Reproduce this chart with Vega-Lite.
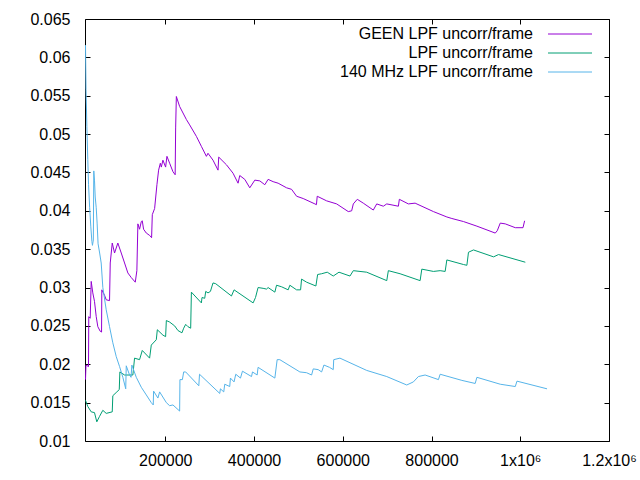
{
  "$schema": "https://vega.github.io/schema/vega-lite/v6.json",
  "width": 524,
  "height": 422,
  "autosize": {"type": "none"},
  "padding": {"left": 85, "top": 19, "right": 31, "bottom": 39},
  "background": "white",
  "config": {
    "view": {"stroke": "black", "strokeWidth": 1},
    "font": "Liberation Sans",
    "axis": {
      "grid": false,
      "domain": false,
      "tickColor": "black",
      "tickSize": -5,
      "tickWidth": 1,
      "labelColor": "black",
      "labelFontSize": 16,
      "labelFont": "Liberation Sans",
      "labelFlush": false,
      "labelOverlap": false,
      "title": null
    }
  },
  "data": {
    "values": [
      {"s": "GEEN LPF uncorr/frame", "x": 20100, "y": 0.0180},
      {"s": "GEEN LPF uncorr/frame", "x": 21200, "y": 0.0199},
      {"s": "GEEN LPF uncorr/frame", "x": 26900, "y": 0.0197},
      {"s": "GEEN LPF uncorr/frame", "x": 27500, "y": 0.0262},
      {"s": "GEEN LPF uncorr/frame", "x": 30700, "y": 0.0260},
      {"s": "GEEN LPF uncorr/frame", "x": 33000, "y": 0.0308},
      {"s": "GEEN LPF uncorr/frame", "x": 36600, "y": 0.0293},
      {"s": "GEEN LPF uncorr/frame", "x": 40400, "y": 0.0282},
      {"s": "GEEN LPF uncorr/frame", "x": 44300, "y": 0.0262},
      {"s": "GEEN LPF uncorr/frame", "x": 47900, "y": 0.0249},
      {"s": "GEEN LPF uncorr/frame", "x": 53300, "y": 0.0243},
      {"s": "GEEN LPF uncorr/frame", "x": 56300, "y": 0.0242},
      {"s": "GEEN LPF uncorr/frame", "x": 56900, "y": 0.0297},
      {"s": "GEEN LPF uncorr/frame", "x": 63000, "y": 0.0290},
      {"s": "GEEN LPF uncorr/frame", "x": 66800, "y": 0.0284},
      {"s": "GEEN LPF uncorr/frame", "x": 74300, "y": 0.0283},
      {"s": "GEEN LPF uncorr/frame", "x": 75900, "y": 0.0332},
      {"s": "GEEN LPF uncorr/frame", "x": 80400, "y": 0.0358},
      {"s": "GEEN LPF uncorr/frame", "x": 85600, "y": 0.0345},
      {"s": "GEEN LPF uncorr/frame", "x": 93000, "y": 0.0358},
      {"s": "GEEN LPF uncorr/frame", "x": 100700, "y": 0.0345},
      {"s": "GEEN LPF uncorr/frame", "x": 108200, "y": 0.0332},
      {"s": "GEEN LPF uncorr/frame", "x": 115600, "y": 0.0319},
      {"s": "GEEN LPF uncorr/frame", "x": 123300, "y": 0.0313},
      {"s": "GEEN LPF uncorr/frame", "x": 132300, "y": 0.0307},
      {"s": "GEEN LPF uncorr/frame", "x": 135900, "y": 0.0322},
      {"s": "GEEN LPF uncorr/frame", "x": 138200, "y": 0.0383},
      {"s": "GEEN LPF uncorr/frame", "x": 142000, "y": 0.0376},
      {"s": "GEEN LPF uncorr/frame", "x": 145900, "y": 0.0386},
      {"s": "GEEN LPF uncorr/frame", "x": 148100, "y": 0.0387},
      {"s": "GEEN LPF uncorr/frame", "x": 151000, "y": 0.0376},
      {"s": "GEEN LPF uncorr/frame", "x": 157200, "y": 0.0371},
      {"s": "GEEN LPF uncorr/frame", "x": 164600, "y": 0.0368},
      {"s": "GEEN LPF uncorr/frame", "x": 169100, "y": 0.0365},
      {"s": "GEEN LPF uncorr/frame", "x": 170700, "y": 0.0395},
      {"s": "GEEN LPF uncorr/frame", "x": 175900, "y": 0.0403},
      {"s": "GEEN LPF uncorr/frame", "x": 181100, "y": 0.0434},
      {"s": "GEEN LPF uncorr/frame", "x": 184900, "y": 0.0453},
      {"s": "GEEN LPF uncorr/frame", "x": 188800, "y": 0.0462},
      {"s": "GEEN LPF uncorr/frame", "x": 191000, "y": 0.0457},
      {"s": "GEEN LPF uncorr/frame", "x": 194600, "y": 0.0466},
      {"s": "GEEN LPF uncorr/frame", "x": 200700, "y": 0.0457},
      {"s": "GEEN LPF uncorr/frame", "x": 203700, "y": 0.0471},
      {"s": "GEEN LPF uncorr/frame", "x": 209800, "y": 0.0462},
      {"s": "GEEN LPF uncorr/frame", "x": 217200, "y": 0.0451},
      {"s": "GEEN LPF uncorr/frame", "x": 222200, "y": 0.0447},
      {"s": "GEEN LPF uncorr/frame", "x": 223300, "y": 0.0508},
      {"s": "GEEN LPF uncorr/frame", "x": 224900, "y": 0.0549},
      {"s": "GEEN LPF uncorr/frame", "x": 232300, "y": 0.0536},
      {"s": "GEEN LPF uncorr/frame", "x": 247500, "y": 0.0519},
      {"s": "GEEN LPF uncorr/frame", "x": 254900, "y": 0.0512},
      {"s": "GEEN LPF uncorr/frame", "x": 270100, "y": 0.0497},
      {"s": "GEEN LPF uncorr/frame", "x": 281300, "y": 0.0484},
      {"s": "GEEN LPF uncorr/frame", "x": 292600, "y": 0.0471},
      {"s": "GEEN LPF uncorr/frame", "x": 296200, "y": 0.0475},
      {"s": "GEEN LPF uncorr/frame", "x": 307500, "y": 0.0466},
      {"s": "GEEN LPF uncorr/frame", "x": 318800, "y": 0.0453},
      {"s": "GEEN LPF uncorr/frame", "x": 320400, "y": 0.0470},
      {"s": "GEEN LPF uncorr/frame", "x": 337800, "y": 0.0460},
      {"s": "GEEN LPF uncorr/frame", "x": 352700, "y": 0.0449},
      {"s": "GEEN LPF uncorr/frame", "x": 364000, "y": 0.0436},
      {"s": "GEEN LPF uncorr/frame", "x": 367800, "y": 0.0446},
      {"s": "GEEN LPF uncorr/frame", "x": 379100, "y": 0.0441},
      {"s": "GEEN LPF uncorr/frame", "x": 390400, "y": 0.0430},
      {"s": "GEEN LPF uncorr/frame", "x": 401700, "y": 0.0440},
      {"s": "GEEN LPF uncorr/frame", "x": 413000, "y": 0.0439},
      {"s": "GEEN LPF uncorr/frame", "x": 424300, "y": 0.0434},
      {"s": "GEEN LPF uncorr/frame", "x": 431700, "y": 0.0441},
      {"s": "GEEN LPF uncorr/frame", "x": 443000, "y": 0.0438},
      {"s": "GEEN LPF uncorr/frame", "x": 454300, "y": 0.0436},
      {"s": "GEEN LPF uncorr/frame", "x": 473300, "y": 0.0430},
      {"s": "GEEN LPF uncorr/frame", "x": 484600, "y": 0.0428},
      {"s": "GEEN LPF uncorr/frame", "x": 495900, "y": 0.0419},
      {"s": "GEEN LPF uncorr/frame", "x": 510800, "y": 0.0416},
      {"s": "GEEN LPF uncorr/frame", "x": 537200, "y": 0.0409},
      {"s": "GEEN LPF uncorr/frame", "x": 540600, "y": 0.0408},
      {"s": "GEEN LPF uncorr/frame", "x": 542400, "y": 0.0419},
      {"s": "GEEN LPF uncorr/frame", "x": 563600, "y": 0.0413},
      {"s": "GEEN LPF uncorr/frame", "x": 586200, "y": 0.0409},
      {"s": "GEEN LPF uncorr/frame", "x": 612400, "y": 0.0399},
      {"s": "GEEN LPF uncorr/frame", "x": 620000, "y": 0.0400},
      {"s": "GEEN LPF uncorr/frame", "x": 623700, "y": 0.0409},
      {"s": "GEEN LPF uncorr/frame", "x": 632700, "y": 0.0415},
      {"s": "GEEN LPF uncorr/frame", "x": 646200, "y": 0.0410},
      {"s": "GEEN LPF uncorr/frame", "x": 668800, "y": 0.0401},
      {"s": "GEEN LPF uncorr/frame", "x": 676500, "y": 0.0409},
      {"s": "GEEN LPF uncorr/frame", "x": 691400, "y": 0.0406},
      {"s": "GEEN LPF uncorr/frame", "x": 699100, "y": 0.0409},
      {"s": "GEEN LPF uncorr/frame", "x": 725300, "y": 0.0406},
      {"s": "GEEN LPF uncorr/frame", "x": 727500, "y": 0.0415},
      {"s": "GEEN LPF uncorr/frame", "x": 747800, "y": 0.0409},
      {"s": "GEEN LPF uncorr/frame", "x": 763000, "y": 0.0410},
      {"s": "GEEN LPF uncorr/frame", "x": 804300, "y": 0.0399},
      {"s": "GEEN LPF uncorr/frame", "x": 834500, "y": 0.0392},
      {"s": "GEEN LPF uncorr/frame", "x": 845800, "y": 0.0390},
      {"s": "GEEN LPF uncorr/frame", "x": 872000, "y": 0.0386},
      {"s": "GEEN LPF uncorr/frame", "x": 902300, "y": 0.0380},
      {"s": "GEEN LPF uncorr/frame", "x": 943600, "y": 0.0371},
      {"s": "GEEN LPF uncorr/frame", "x": 948100, "y": 0.0374},
      {"s": "GEEN LPF uncorr/frame", "x": 954900, "y": 0.0384},
      {"s": "GEEN LPF uncorr/frame", "x": 966200, "y": 0.0383},
      {"s": "GEEN LPF uncorr/frame", "x": 988800, "y": 0.0378},
      {"s": "GEEN LPF uncorr/frame", "x": 1006200, "y": 0.0378},
      {"s": "GEEN LPF uncorr/frame", "x": 1009800, "y": 0.0387},

      {"s": "LPF uncorr/frame", "x": 20100, "y": 0.0153},
      {"s": "LPF uncorr/frame", "x": 25300, "y": 0.0145},
      {"s": "LPF uncorr/frame", "x": 33000, "y": 0.0138},
      {"s": "LPF uncorr/frame", "x": 40400, "y": 0.0137},
      {"s": "LPF uncorr/frame", "x": 45600, "y": 0.0125},
      {"s": "LPF uncorr/frame", "x": 51700, "y": 0.0132},
      {"s": "LPF uncorr/frame", "x": 59200, "y": 0.0140},
      {"s": "LPF uncorr/frame", "x": 66800, "y": 0.0136},
      {"s": "LPF uncorr/frame", "x": 80400, "y": 0.0138},
      {"s": "LPF uncorr/frame", "x": 81700, "y": 0.0159},
      {"s": "LPF uncorr/frame", "x": 90800, "y": 0.0164},
      {"s": "LPF uncorr/frame", "x": 96200, "y": 0.0167},
      {"s": "LPF uncorr/frame", "x": 97600, "y": 0.0190},
      {"s": "LPF uncorr/frame", "x": 108200, "y": 0.0186},
      {"s": "LPF uncorr/frame", "x": 126900, "y": 0.0186},
      {"s": "LPF uncorr/frame", "x": 130700, "y": 0.0208},
      {"s": "LPF uncorr/frame", "x": 142000, "y": 0.0206},
      {"s": "LPF uncorr/frame", "x": 148100, "y": 0.0218},
      {"s": "LPF uncorr/frame", "x": 164600, "y": 0.0208},
      {"s": "LPF uncorr/frame", "x": 168400, "y": 0.0225},
      {"s": "LPF uncorr/frame", "x": 179700, "y": 0.0232},
      {"s": "LPF uncorr/frame", "x": 182000, "y": 0.0245},
      {"s": "LPF uncorr/frame", "x": 194600, "y": 0.0238},
      {"s": "LPF uncorr/frame", "x": 200700, "y": 0.0236},
      {"s": "LPF uncorr/frame", "x": 202300, "y": 0.0257},
      {"s": "LPF uncorr/frame", "x": 209800, "y": 0.0255},
      {"s": "LPF uncorr/frame", "x": 221100, "y": 0.0250},
      {"s": "LPF uncorr/frame", "x": 228500, "y": 0.0244},
      {"s": "LPF uncorr/frame", "x": 237500, "y": 0.0241},
      {"s": "LPF uncorr/frame", "x": 241400, "y": 0.0247},
      {"s": "LPF uncorr/frame", "x": 245900, "y": 0.0252},
      {"s": "LPF uncorr/frame", "x": 251100, "y": 0.0249},
      {"s": "LPF uncorr/frame", "x": 257200, "y": 0.0247},
      {"s": "LPF uncorr/frame", "x": 258800, "y": 0.0294},
      {"s": "LPF uncorr/frame", "x": 281300, "y": 0.0280},
      {"s": "LPF uncorr/frame", "x": 282700, "y": 0.0287},
      {"s": "LPF uncorr/frame", "x": 288800, "y": 0.0286},
      {"s": "LPF uncorr/frame", "x": 291100, "y": 0.0295},
      {"s": "LPF uncorr/frame", "x": 296200, "y": 0.0293},
      {"s": "LPF uncorr/frame", "x": 301700, "y": 0.0295},
      {"s": "LPF uncorr/frame", "x": 307500, "y": 0.0306},
      {"s": "LPF uncorr/frame", "x": 313600, "y": 0.0305},
      {"s": "LPF uncorr/frame", "x": 349100, "y": 0.0289},
      {"s": "LPF uncorr/frame", "x": 355000, "y": 0.0297},
      {"s": "LPF uncorr/frame", "x": 397900, "y": 0.0280},
      {"s": "LPF uncorr/frame", "x": 403300, "y": 0.0287},
      {"s": "LPF uncorr/frame", "x": 409100, "y": 0.0300},
      {"s": "LPF uncorr/frame", "x": 420400, "y": 0.0299},
      {"s": "LPF uncorr/frame", "x": 428100, "y": 0.0298},
      {"s": "LPF uncorr/frame", "x": 431700, "y": 0.0300},
      {"s": "LPF uncorr/frame", "x": 446900, "y": 0.0294},
      {"s": "LPF uncorr/frame", "x": 450700, "y": 0.0303},
      {"s": "LPF uncorr/frame", "x": 462000, "y": 0.0301},
      {"s": "LPF uncorr/frame", "x": 476900, "y": 0.0297},
      {"s": "LPF uncorr/frame", "x": 480700, "y": 0.0303},
      {"s": "LPF uncorr/frame", "x": 495900, "y": 0.0297},
      {"s": "LPF uncorr/frame", "x": 504900, "y": 0.0297},
      {"s": "LPF uncorr/frame", "x": 507100, "y": 0.0311},
      {"s": "LPF uncorr/frame", "x": 518400, "y": 0.0307},
      {"s": "LPF uncorr/frame", "x": 539400, "y": 0.0302},
      {"s": "LPF uncorr/frame", "x": 543300, "y": 0.0317},
      {"s": "LPF uncorr/frame", "x": 552300, "y": 0.0318},
      {"s": "LPF uncorr/frame", "x": 565000, "y": 0.0320},
      {"s": "LPF uncorr/frame", "x": 578500, "y": 0.0315},
      {"s": "LPF uncorr/frame", "x": 591400, "y": 0.0320},
      {"s": "LPF uncorr/frame", "x": 616200, "y": 0.0315},
      {"s": "LPF uncorr/frame", "x": 623700, "y": 0.0322},
      {"s": "LPF uncorr/frame", "x": 653900, "y": 0.0320},
      {"s": "LPF uncorr/frame", "x": 699100, "y": 0.0309},
      {"s": "LPF uncorr/frame", "x": 702700, "y": 0.0322},
      {"s": "LPF uncorr/frame", "x": 729100, "y": 0.0318},
      {"s": "LPF uncorr/frame", "x": 774300, "y": 0.0309},
      {"s": "LPF uncorr/frame", "x": 778100, "y": 0.0324},
      {"s": "LPF uncorr/frame", "x": 804300, "y": 0.0321},
      {"s": "LPF uncorr/frame", "x": 819400, "y": 0.0322},
      {"s": "LPF uncorr/frame", "x": 830700, "y": 0.0321},
      {"s": "LPF uncorr/frame", "x": 834500, "y": 0.0336},
      {"s": "LPF uncorr/frame", "x": 872000, "y": 0.0330},
      {"s": "LPF uncorr/frame", "x": 879700, "y": 0.0329},
      {"s": "LPF uncorr/frame", "x": 883300, "y": 0.0346},
      {"s": "LPF uncorr/frame", "x": 894600, "y": 0.0349},
      {"s": "LPF uncorr/frame", "x": 939800, "y": 0.0340},
      {"s": "LPF uncorr/frame", "x": 951100, "y": 0.0343},
      {"s": "LPF uncorr/frame", "x": 1011400, "y": 0.0333},

      {"s": "140 MHz LPF uncorr/frame", "x": 20100, "y": 0.0616},
      {"s": "140 MHz LPF uncorr/frame", "x": 21300, "y": 0.0558},
      {"s": "140 MHz LPF uncorr/frame", "x": 23200, "y": 0.0510},
      {"s": "140 MHz LPF uncorr/frame", "x": 25300, "y": 0.0467},
      {"s": "140 MHz LPF uncorr/frame", "x": 27000, "y": 0.0434},
      {"s": "140 MHz LPF uncorr/frame", "x": 29500, "y": 0.0404},
      {"s": "140 MHz LPF uncorr/frame", "x": 32000, "y": 0.0380},
      {"s": "140 MHz LPF uncorr/frame", "x": 34500, "y": 0.0360},
      {"s": "140 MHz LPF uncorr/frame", "x": 35800, "y": 0.0355},
      {"s": "140 MHz LPF uncorr/frame", "x": 37800, "y": 0.0362},
      {"s": "140 MHz LPF uncorr/frame", "x": 38800, "y": 0.0452},
      {"s": "140 MHz LPF uncorr/frame", "x": 40400, "y": 0.0440},
      {"s": "140 MHz LPF uncorr/frame", "x": 42000, "y": 0.0418},
      {"s": "140 MHz LPF uncorr/frame", "x": 44300, "y": 0.0404},
      {"s": "140 MHz LPF uncorr/frame", "x": 46300, "y": 0.0384},
      {"s": "140 MHz LPF uncorr/frame", "x": 48500, "y": 0.0357},
      {"s": "140 MHz LPF uncorr/frame", "x": 52000, "y": 0.0345},
      {"s": "140 MHz LPF uncorr/frame", "x": 55500, "y": 0.0332},
      {"s": "140 MHz LPF uncorr/frame", "x": 59200, "y": 0.0300},
      {"s": "140 MHz LPF uncorr/frame", "x": 66800, "y": 0.0271},
      {"s": "140 MHz LPF uncorr/frame", "x": 74300, "y": 0.0249},
      {"s": "140 MHz LPF uncorr/frame", "x": 81700, "y": 0.0228},
      {"s": "140 MHz LPF uncorr/frame", "x": 89400, "y": 0.0210},
      {"s": "140 MHz LPF uncorr/frame", "x": 96900, "y": 0.0197},
      {"s": "140 MHz LPF uncorr/frame", "x": 104300, "y": 0.0183},
      {"s": "140 MHz LPF uncorr/frame", "x": 110800, "y": 0.0168},
      {"s": "140 MHz LPF uncorr/frame", "x": 112000, "y": 0.0198},
      {"s": "140 MHz LPF uncorr/frame", "x": 119400, "y": 0.0186},
      {"s": "140 MHz LPF uncorr/frame", "x": 122800, "y": 0.0183},
      {"s": "140 MHz LPF uncorr/frame", "x": 124600, "y": 0.0199},
      {"s": "140 MHz LPF uncorr/frame", "x": 134600, "y": 0.0183},
      {"s": "140 MHz LPF uncorr/frame", "x": 145900, "y": 0.0170},
      {"s": "140 MHz LPF uncorr/frame", "x": 157200, "y": 0.0160},
      {"s": "140 MHz LPF uncorr/frame", "x": 168400, "y": 0.0150},
      {"s": "140 MHz LPF uncorr/frame", "x": 172800, "y": 0.0147},
      {"s": "140 MHz LPF uncorr/frame", "x": 173600, "y": 0.0165},
      {"s": "140 MHz LPF uncorr/frame", "x": 183300, "y": 0.0156},
      {"s": "140 MHz LPF uncorr/frame", "x": 187200, "y": 0.0164},
      {"s": "140 MHz LPF uncorr/frame", "x": 202300, "y": 0.0150},
      {"s": "140 MHz LPF uncorr/frame", "x": 209800, "y": 0.0146},
      {"s": "140 MHz LPF uncorr/frame", "x": 217200, "y": 0.0147},
      {"s": "140 MHz LPF uncorr/frame", "x": 232300, "y": 0.0139},
      {"s": "140 MHz LPF uncorr/frame", "x": 233000, "y": 0.0180},
      {"s": "140 MHz LPF uncorr/frame", "x": 238500, "y": 0.0180},
      {"s": "140 MHz LPF uncorr/frame", "x": 241400, "y": 0.0190},
      {"s": "140 MHz LPF uncorr/frame", "x": 245900, "y": 0.0190},
      {"s": "140 MHz LPF uncorr/frame", "x": 275500, "y": 0.0172},
      {"s": "140 MHz LPF uncorr/frame", "x": 277100, "y": 0.0187},
      {"s": "140 MHz LPF uncorr/frame", "x": 322700, "y": 0.0162},
      {"s": "140 MHz LPF uncorr/frame", "x": 324200, "y": 0.0168},
      {"s": "140 MHz LPF uncorr/frame", "x": 331700, "y": 0.0164},
      {"s": "140 MHz LPF uncorr/frame", "x": 334000, "y": 0.0174},
      {"s": "140 MHz LPF uncorr/frame", "x": 345200, "y": 0.0171},
      {"s": "140 MHz LPF uncorr/frame", "x": 346800, "y": 0.0182},
      {"s": "140 MHz LPF uncorr/frame", "x": 354900, "y": 0.0177},
      {"s": "140 MHz LPF uncorr/frame", "x": 358800, "y": 0.0187},
      {"s": "140 MHz LPF uncorr/frame", "x": 369400, "y": 0.0182},
      {"s": "140 MHz LPF uncorr/frame", "x": 373900, "y": 0.0191},
      {"s": "140 MHz LPF uncorr/frame", "x": 394300, "y": 0.0184},
      {"s": "140 MHz LPF uncorr/frame", "x": 396500, "y": 0.0190},
      {"s": "140 MHz LPF uncorr/frame", "x": 407000, "y": 0.0186},
      {"s": "140 MHz LPF uncorr/frame", "x": 409100, "y": 0.0196},
      {"s": "140 MHz LPF uncorr/frame", "x": 446900, "y": 0.0182},
      {"s": "140 MHz LPF uncorr/frame", "x": 452100, "y": 0.0206},
      {"s": "140 MHz LPF uncorr/frame", "x": 458100, "y": 0.0206},
      {"s": "140 MHz LPF uncorr/frame", "x": 503300, "y": 0.0190},
      {"s": "140 MHz LPF uncorr/frame", "x": 518400, "y": 0.0189},
      {"s": "140 MHz LPF uncorr/frame", "x": 529700, "y": 0.0186},
      {"s": "140 MHz LPF uncorr/frame", "x": 533400, "y": 0.0194},
      {"s": "140 MHz LPF uncorr/frame", "x": 544600, "y": 0.0193},
      {"s": "140 MHz LPF uncorr/frame", "x": 552300, "y": 0.0190},
      {"s": "140 MHz LPF uncorr/frame", "x": 557500, "y": 0.0199},
      {"s": "140 MHz LPF uncorr/frame", "x": 570000, "y": 0.0196},
      {"s": "140 MHz LPF uncorr/frame", "x": 578500, "y": 0.0193},
      {"s": "140 MHz LPF uncorr/frame", "x": 579600, "y": 0.0206},
      {"s": "140 MHz LPF uncorr/frame", "x": 593600, "y": 0.0208},
      {"s": "140 MHz LPF uncorr/frame", "x": 653900, "y": 0.0192},
      {"s": "140 MHz LPF uncorr/frame", "x": 699100, "y": 0.0184},
      {"s": "140 MHz LPF uncorr/frame", "x": 744200, "y": 0.0173},
      {"s": "140 MHz LPF uncorr/frame", "x": 759100, "y": 0.0177},
      {"s": "140 MHz LPF uncorr/frame", "x": 770400, "y": 0.0184},
      {"s": "140 MHz LPF uncorr/frame", "x": 785600, "y": 0.0186},
      {"s": "140 MHz LPF uncorr/frame", "x": 815600, "y": 0.0180},
      {"s": "140 MHz LPF uncorr/frame", "x": 819400, "y": 0.0187},
      {"s": "140 MHz LPF uncorr/frame", "x": 868400, "y": 0.0179},
      {"s": "140 MHz LPF uncorr/frame", "x": 898400, "y": 0.0175},
      {"s": "140 MHz LPF uncorr/frame", "x": 902300, "y": 0.0183},
      {"s": "140 MHz LPF uncorr/frame", "x": 954900, "y": 0.0174},
      {"s": "140 MHz LPF uncorr/frame", "x": 988800, "y": 0.0171},
      {"s": "140 MHz LPF uncorr/frame", "x": 992600, "y": 0.0178},
      {"s": "140 MHz LPF uncorr/frame", "x": 1060300, "y": 0.0168}
    ]
  },
  "layer": [
    {
      "mark": {"type": "line", "strokeWidth": 1, "interpolate": "linear"},
      "encoding": {
        "x": {
          "field": "x",
          "type": "quantitative",
          "scale": {"domain": [19000, 1200000], "nice": false, "zero": false},
          "axis": {
            "orient": "bottom",
            "values": [200000, 400000, 600000, 800000, 1000000, 1200000],
            "labelPadding": 16,
            "labelExpr": "datum.value == 1000000 ? '1x10⁶' : (datum.value == 1200000 ? '1.2x10⁶' : format(datum.value, 'd'))"
          }
        },
        "y": {
          "field": "y",
          "type": "quantitative",
          "scale": {"domain": [0.01, 0.065], "nice": false, "zero": false},
          "axis": {
            "orient": "left",
            "values": [0.01, 0.015, 0.02, 0.025, 0.03, 0.035, 0.04, 0.045, 0.05, 0.055, 0.06, 0.065],
            "labelPadding": 20,
            "labelExpr": "format(datum.value, '.3~f')"
          }
        },
        "color": {
          "field": "s",
          "type": "nominal",
          "scale": {
            "domain": ["GEEN LPF uncorr/frame", "LPF uncorr/frame", "140 MHz LPF uncorr/frame"],
            "range": ["#9400D3", "#009E73", "#56B4E9"]
          },
          "legend": {
            "title": null,
            "orient": "none",
            "legendX": 477,
            "legendY": 7,
            "padding": 0,
            "symbolType": "M-4.4,0H4.4",
            "symbolSize": 100,
            "symbolStrokeWidth": 1,
            "labelAlign": "right",
            "labelOffset": -45,
            "labelFontSize": 16,
            "labelFont": "Liberation Sans",
            "labelColor": "black",
            "labelLimit": 400,
            "rowPadding": 3
          }
        }
      }
    },
    {
      "mark": {"type": "point", "opacity": 0},
      "encoding": {
        "x": {
          "field": "x",
          "type": "quantitative",
          "axis": {"orient": "top", "labels": false, "values": [200000, 400000, 600000, 800000, 1000000, 1200000]}
        },
        "y": {
          "field": "y",
          "type": "quantitative",
          "axis": {"orient": "right", "labels": false, "values": [0.01, 0.015, 0.02, 0.025, 0.03, 0.035, 0.04, 0.045, 0.05, 0.055, 0.06, 0.065]}
        }
      }
    }
  ],
  "resolve": {"axis": {"x": "independent", "y": "independent"}}
}
